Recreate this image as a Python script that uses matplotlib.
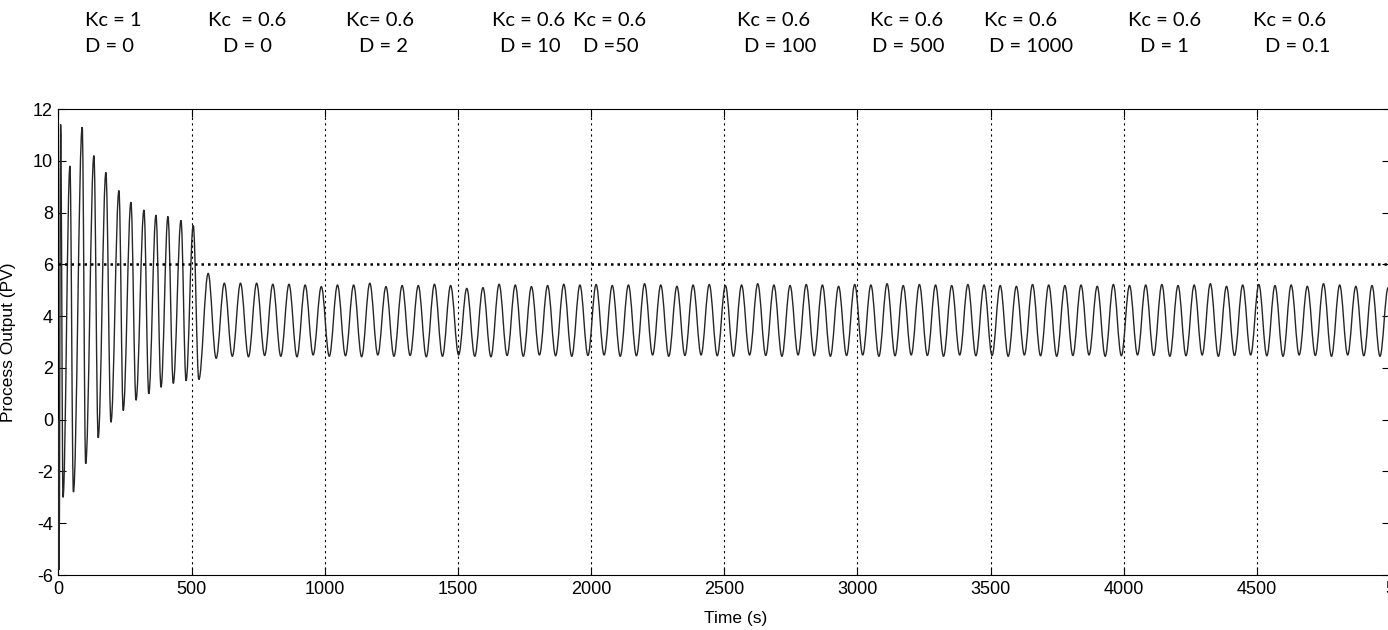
import numpy as np
import matplotlib
matplotlib.use("Agg")
import matplotlib.pyplot as plt
from matplotlib import transforms
from matplotlib.path import Path
from matplotlib.patches import PathPatch

plt.rcParams["axes.unicode_minus"] = False

# ---------------- data ----------------
# Phase Kc = 1, D = 0 : extrema (time s, PV)
phase1_time = [0, 2, 8, 17, 43, 56, 89, 102, 133, 149, 178, 197, 227, 243,
               272, 291, 321, 339, 366, 385, 411, 431, 460, 479, 506, 527]
phase1_pv = [0.0, -5.8, 11.4, -3.0, 9.8, -2.8, 11.3, -1.7, 10.2, -0.7, 9.55,
             -0.1, 8.85, 0.35, 8.4, 0.75, 8.1, 1.0, 7.9, 1.25, 7.85, 1.4,
             7.7, 1.5, 7.5, 1.55]

# Later phases (Kc = 0.6): sustained oscillation, peak / trough values per cycle
phase2_first_peak = 562.0
phase2_first_trough = 592.0
phase2_cycle = 60.7
phase2_peaks = [5.65, 5.27, 5.27, 5.27, 5.23, 5.23, 5.20, 5.14, 5.20, 5.20,
                5.27, 5.14, 5.18, 5.18, 5.23, 5.18, 5.07, 5.10, 5.23, 5.20,
                5.14, 5.18, 5.23, 5.20, 5.22, 5.18, 5.20, 5.25, 5.20, 5.15,
                5.20, 5.22, 5.18, 5.20, 5.25, 5.20, 5.18, 5.22, 5.20, 5.15,
                5.22, 5.20, 5.25, 5.18, 5.22, 5.20, 5.18, 5.22, 5.20, 5.18,
                5.15, 5.22, 5.20, 5.18, 5.20, 5.15, 5.22, 5.18, 5.20, 5.22,
                5.18, 5.20, 5.25, 5.15, 5.20, 5.22, 5.18, 5.20, 5.15, 5.25,
                5.20, 5.15, 5.18, 5.10]
phase2_troughs = [2.37, 2.45, 2.43, 2.48, 2.45, 2.43, 2.50, 2.45, 2.47, 2.43,
                  2.50, 2.45, 2.48, 2.43, 2.45, 2.50, 2.45, 2.43, 2.48, 2.45,
                  2.50, 2.47, 2.45, 2.48, 2.50, 2.45, 2.47, 2.50, 2.45, 2.48,
                  2.50, 2.47, 2.45, 2.50, 2.48, 2.45, 2.50, 2.47, 2.45, 2.48,
                  2.50, 2.45, 2.47, 2.50, 2.48, 2.45, 2.50, 2.47, 2.48, 2.45,
                  2.50, 2.47, 2.45, 2.48, 2.50, 2.45, 2.47, 2.50, 2.48, 2.45,
                  2.47, 2.50, 2.45, 2.48, 2.50, 2.47, 2.45, 2.50, 2.48, 2.45,
                  2.50, 2.47, 2.45]

setpoint = 6.0
t_end = 5000

kc_labels = ["Kc = 1", "Kc  = 0.6", "Kc= 0.6", "Kc = 0.6", "Kc = 0.6",
             "Kc = 0.6", "Kc = 0.6", "Kc = 0.6", "Kc = 0.6", "Kc = 0.6"]
d_labels = ["D = 0", "D = 0", "D = 2", "D = 10", "D =50",
            "D = 100", "D = 500", "D = 1000", "D = 1", "D = 0.1"]
kc_label_t = [205, 708, 1207, 1767, 2071, 2687, 3186, 3611, 4152, 4621]
d_label_t = [193, 708, 1222, 1770, 2075, 2709, 3190, 3652, 4152, 4654]

x_ticks = [0, 500, 1000, 1500, 2000, 2500, 3000, 3500, 4000, 4500, 5000]
x_ticklabels = ["0", "500", "1000", "1500", "2000", "2500", "3000",
                "3500", "4000", "4500", "5"]
y_ticks = [-6, -4, -2, 0, 2, 4, 6, 8, 10, 12]

# ---------------- assemble series ----------------
pk_t = phase2_first_peak + phase2_cycle * np.arange(len(phase2_peaks))
tr_t = phase2_first_trough + phase2_cycle * np.arange(len(phase2_troughs))
t2 = np.empty(len(pk_t) + len(tr_t))
v2 = np.empty_like(t2)
t2[0::2] = pk_t
v2[0::2] = phase2_peaks
t2[1::2] = tr_t
v2[1::2] = phase2_troughs
time = np.concatenate([phase1_time, t2])
pv = np.concatenate([phase1_pv, v2])

# smooth curve through the extrema (horizontal tangents at each extremum)
verts = [(time[0], pv[0])]
codes = [Path.MOVETO]
k = 0.364
for i in range(len(time) - 1):
    t0, v0, t1, v1 = time[i], pv[i], time[i + 1], pv[i + 1]
    dt = t1 - t0
    verts += [(t0 + k * dt, v0), (t1 - k * dt, v1), (t1, v1)]
    codes += [Path.CURVE4] * 3

# ---------------- figure ----------------
W, H = 1388, 630
fig = plt.figure(figsize=(W / 100, H / 100), dpi=100)
ax = fig.add_axes([58.5 / W, 55 / H, 1331.5 / W, 466 / H])

ax.add_patch(PathPatch(Path(verts, codes), facecolor="none",
                       edgecolor="#262626", lw=1.0, zorder=3))
ax.plot([0, t_end], [setpoint, setpoint], color="black", lw=1.8,
        ls=(0, (1, 1.6)), zorder=4)

ax.set_xlim(0, t_end)
ax.set_ylim(-6, 12)
ax.set_xticks(x_ticks)
ax.set_xticklabels(x_ticklabels)
ax.set_yticks(y_ticks)
ax.grid(axis="x", color="black", lw=0.8, ls=(0, (2, 3)))
ax.tick_params(direction="in", length=6, width=0.8, top=True, right=True,
               labelsize=13, pad=4)
for lab in ax.get_xticklabels() + ax.get_yticklabels():
    lab.set_fontfamily("Liberation Sans")
for s in ax.spines.values():
    s.set_linewidth(0.8)
    s.set_color("black")

fig.text(736 / W, 1 - 618 / H, "Time (s)", ha="center", va="center",
         fontsize=12.5, family="Liberation Sans")
fig.text(9 / W, 1 - 342 / H, "Process Output (PV)", rotation=90,
         ha="center", va="center", fontsize=12.5, family="Liberation Sans")

tr = transforms.blended_transform_factory(ax.transData, fig.transFigure)
for t, s in zip(kc_label_t, kc_labels):
    ax.text(t, 1 - 20 / H, s, transform=tr, ha="center", va="center",
            fontsize=14.5, family="Lato", clip_on=False)
for t, s in zip(d_label_t, d_labels):
    ax.text(t, 1 - 46 / H, s, transform=tr, ha="center", va="center",
            fontsize=14.5, family="Lato", clip_on=False)

fig.savefig("out.png", dpi=100)
